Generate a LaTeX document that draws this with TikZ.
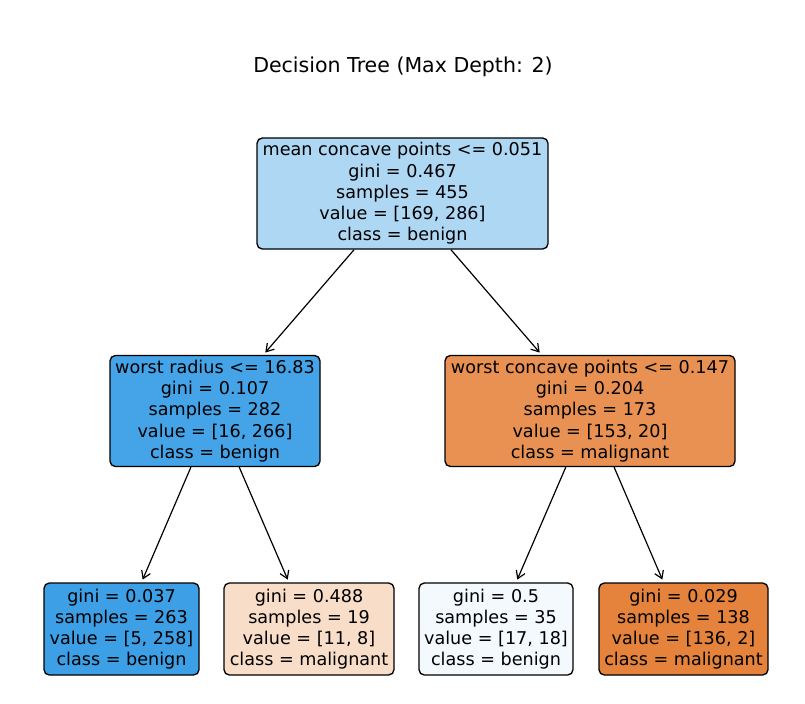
\documentclass[tikz,border=0pt]{standalone}
\usepackage{fontspec}
\setmainfont{DejaVu Sans}
\usetikzlibrary{arrows.meta}
\definecolor{nroot}{RGB}{174,215,244}
\definecolor{nleft}{RGB}{69,163,231}
\definecolor{nright}{RGB}{232,145,83}
\definecolor{lfa}{RGB}{61,159,229}
\definecolor{lfb}{RGB}{248,221,201}
\definecolor{lfc}{RGB}{244,249,254}
\definecolor{lfd}{RGB}{229,131,60}
\begin{document}
\begin{tikzpicture}[x=0.75pt,y=-0.75pt,
  tnode/.style={draw=black, line width=1pt, rounded corners=4pt, align=center,
    font=\fontsize{13.2}{15.9}\selectfont, inner xsep=2pt, inner ysep=0pt},
  inner5/.style={tnode, minimum height=83.25pt},
  leaf4/.style={tnode, minimum height=69pt},
  edge/.style={-{Straight Barb[length=5.5pt,width=7pt]}, line width=0.9pt, shorten >=2.25pt}]
\fill[white] (0,0) rectangle (805,703);
\useasboundingbox (0,0) rectangle (805,703);
\node[font=\fontsize{15.4}{18}\selectfont] (title) at (403,67) {Decision Tree (Max Depth: 2)};
\node[inner5, fill=nroot, minimum width=218.25pt] (root) at (402.5,193.5)
  {mean concave points <= 0.051\\gini = 0.467\\samples = 455\\value = [169, 286]\\class = benign};
\node[inner5, fill=nleft, minimum width=157.5pt] (left) at (215,411)
  {worst radius <= 16.83\\gini = 0.107\\samples = 282\\value = [16, 266]\\class = benign};
\node[inner5, fill=nright, minimum width=217.5pt] (right) at (590,411)
  {worst concave points <= 0.147\\gini = 0.204\\samples = 173\\value = [153, 20]\\class = malignant};
\node[leaf4, fill=lfa, minimum width=116.25pt] (la) at (121.5,629)
  {gini = 0.037\\samples = 263\\value = [5, 258]\\class = benign};
\node[leaf4, fill=lfb, minimum width=127.5pt] (lb) at (309,629)
  {gini = 0.488\\samples = 19\\value = [11, 8]\\class = malignant};
\node[leaf4, fill=lfc, minimum width=115.5pt] (lc) at (496,629)
  {gini = 0.5\\samples = 35\\value = [17, 18]\\class = benign};
\node[leaf4, fill=lfd, minimum width=126.75pt] (ld) at (683.5,629)
  {gini = 0.029\\samples = 138\\value = [136, 2]\\class = malignant};
\draw[edge] (root) -- (left);
\draw[edge] (root) -- (right);
\draw[edge] (left) -- (la);
\draw[edge] (left) -- (lb);
\draw[edge] (right) -- (lc);
\draw[edge] (right) -- (ld);
\end{tikzpicture}
\end{document}
